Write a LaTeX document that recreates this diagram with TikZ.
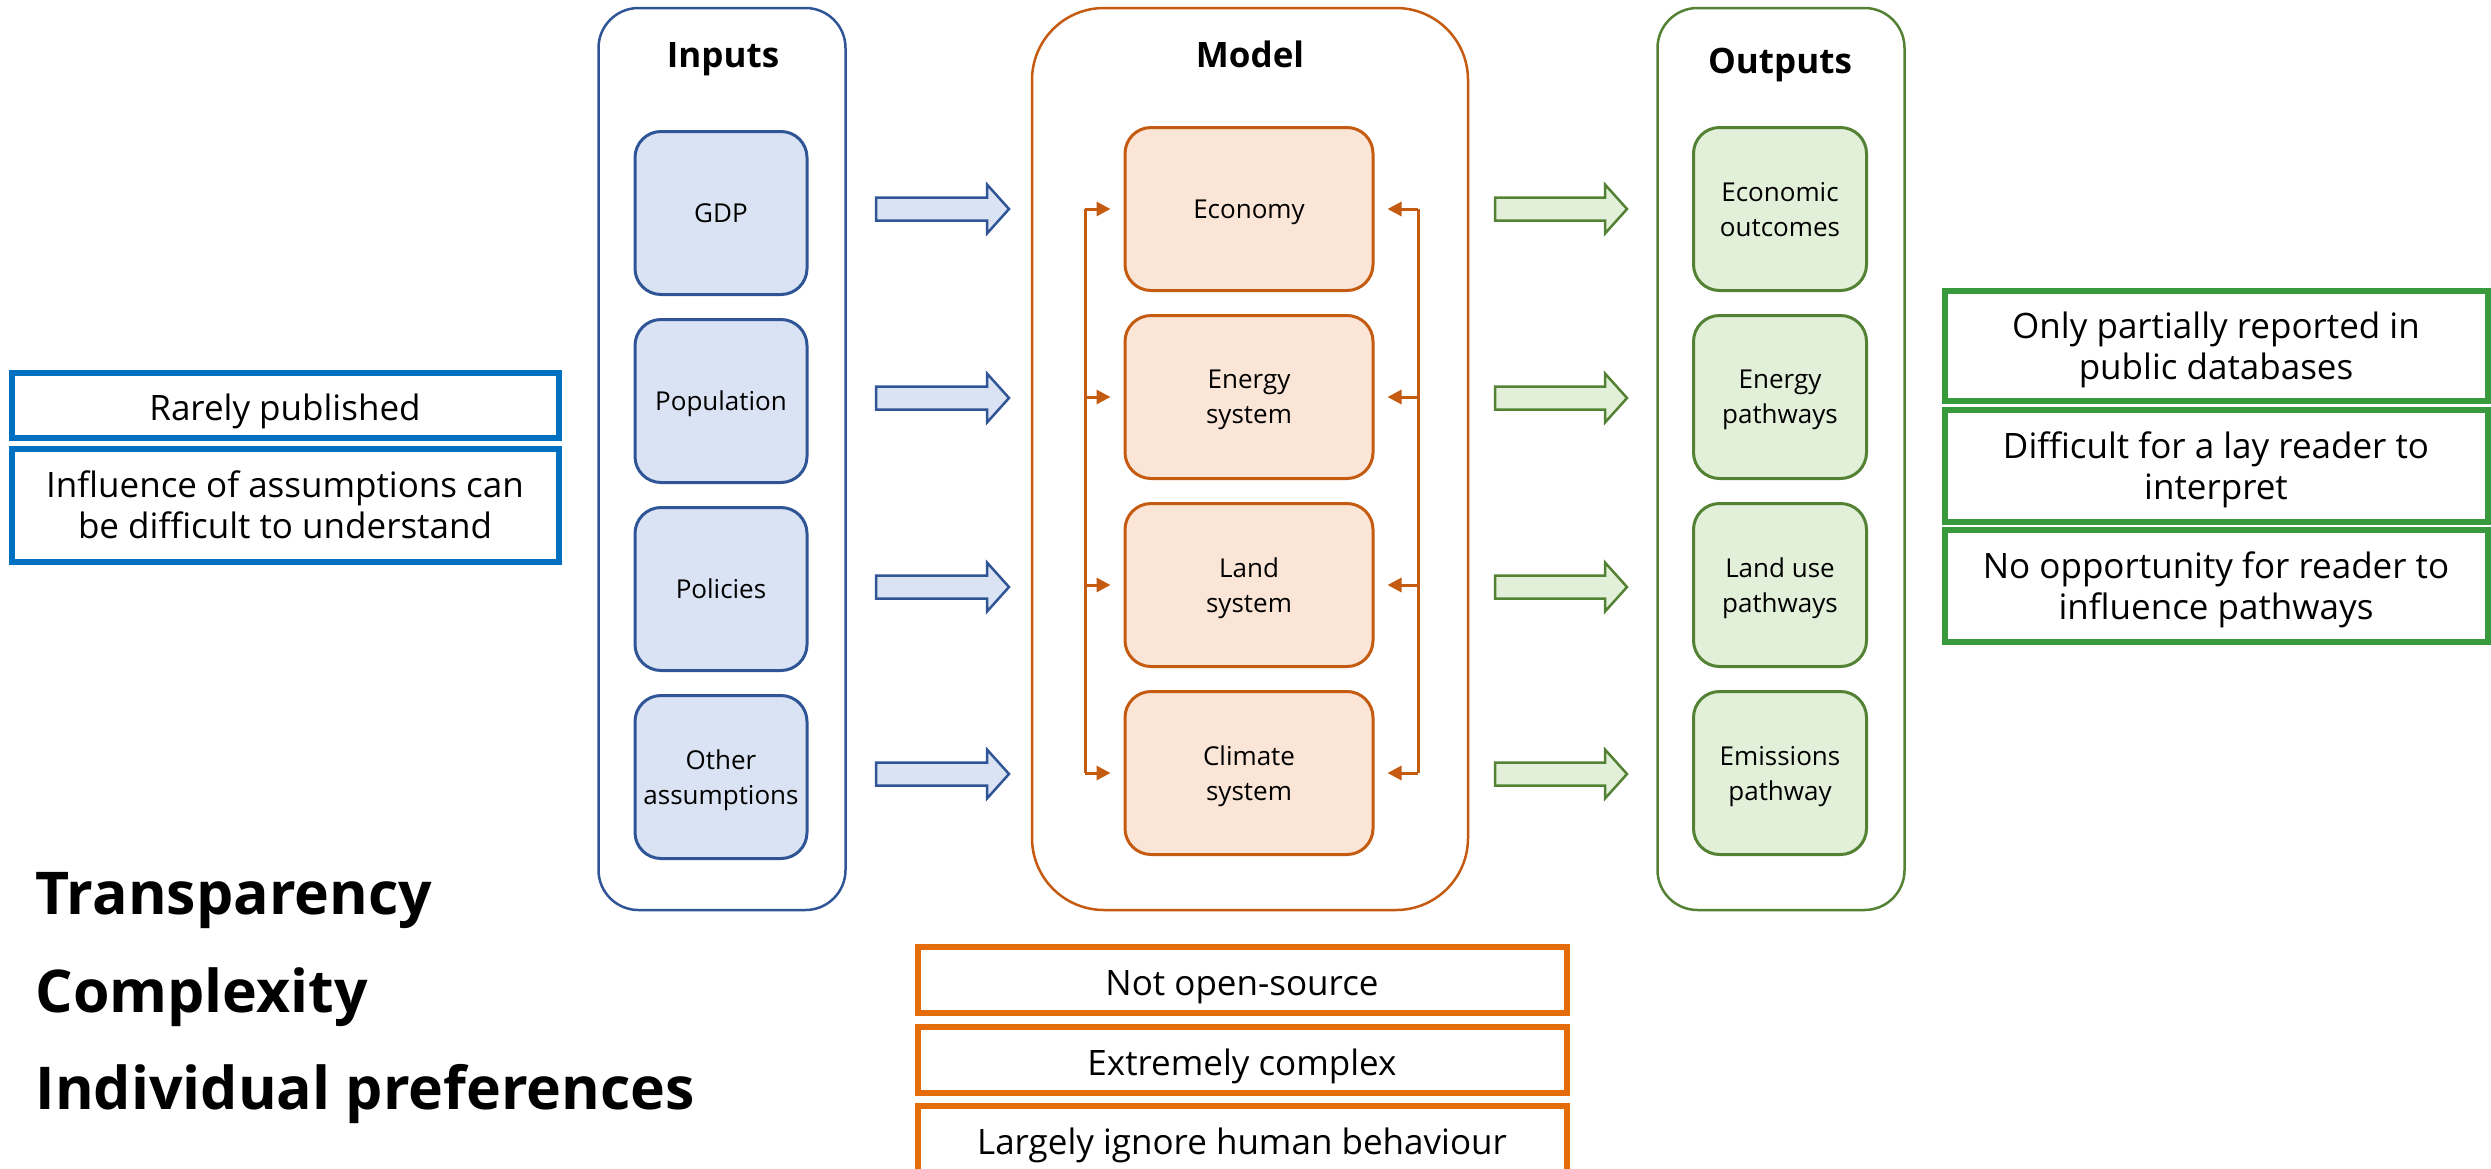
\documentclass[tikz,border=0pt]{standalone}
\usepackage{fontspec}
\setmainfont{Open Sans}
\usetikzlibrary{positioning,arrows.meta}

\definecolor{inblue}{HTML}{2F5597}
\definecolor{inlight}{HTML}{DAE3F3}
\definecolor{modorange}{HTML}{C55A11}
\definecolor{modlight}{HTML}{FBE5D6}
\definecolor{outgreen}{HTML}{548235}
\definecolor{outlight}{HTML}{E2F0D9}
\definecolor{noteblue}{HTML}{0070C0}
\definecolor{noteorange}{HTML}{E46C0A}
\definecolor{notegreen}{HTML}{389A3C}

\tikzset{
  colframe/.style={draw=#1, line width=2.5pt, minimum width=247pt, minimum height=902pt},
  coltitle/.style={anchor=base, font=\fontsize{35}{40}\selectfont\bfseries},
  inbox/.style={draw=#1, line width=3pt, rounded corners=26pt, minimum height=163pt,
    align=center, inner sep=0pt, text depth=0pt, font=\fontsize{26}{35}\selectfont},
  note/.style={draw=#1, line width=6pt, align=center, inner sep=0pt, text depth=0pt,
    font=\fontsize{35}{41}\selectfont},
  oneline/.style={text height=39pt, text depth=8pt},
  fbline/.style={draw=modorange, line width=3pt},
  bigword/.style={anchor=base west, font=\fontsize{59}{62}\selectfont\bfseries}
}

\begin{document}
\begin{tikzpicture}[x=1pt,y=-1pt,node distance=22pt]
  \useasboundingbox (0,0) rectangle (2491,1168);

  % the three columns
  \node[colframe=inblue, rounded corners=40pt] (inframe) at (722,459) {};
  \node[colframe=modorange, rounded corners=72pt, minimum width=436pt] (modframe) at (1250,459) {};
  \node[colframe=outgreen, rounded corners=40pt] (outframe) at (1781,459) {};
  \node[coltitle] (intitle) at (723,67) {Inputs};
  \node[coltitle] (modtitle) at (1250,67) {Model};
  \node[coltitle] (outtitle) at (1780,73) {Outputs};

  % inputs
  \node[inbox=inblue, fill=inlight, minimum width=172pt] (gdp) at (721,213) {GDP};
  \node[inbox=inblue, fill=inlight, minimum width=172pt, below=of gdp] (pop) {Population};
  \node[inbox=inblue, fill=inlight, minimum width=172pt, below=of pop] (pol) {Policies};
  \node[inbox=inblue, fill=inlight, minimum width=172pt, below=of pol] (other) {Other\\assumptions};

  % model
  \node[inbox=modorange, fill=modlight, minimum width=248pt] (econ) at (1249,209) {Economy};
  \node[inbox=modorange, fill=modlight, minimum width=248pt, below=of econ] (energy) {Energy\\system};
  \node[inbox=modorange, fill=modlight, minimum width=248pt, below=of energy] (land) {Land\\system};
  \node[inbox=modorange, fill=modlight, minimum width=248pt, below=of land] (clim) {Climate\\system};

  % outputs
  \node[inbox=outgreen, fill=outlight, minimum width=173pt] (econout) at (1780,209) {Economic\\outcomes};
  \node[inbox=outgreen, fill=outlight, minimum width=173pt, below=of econout] (enout) {Energy\\pathways};
  \node[inbox=outgreen, fill=outlight, minimum width=173pt, below=of enout] (landout) {Land use\\pathways};
  \node[inbox=outgreen, fill=outlight, minimum width=173pt, below=of landout] (emout) {Emissions\\pathway};

  % block arrows between the columns
  \foreach \y in {209,398,587,774} {
    \draw[inblue, fill=inlight, line width=2.5pt] (876,\y-11.5) -- (987,\y-11.5) -- (987,\y-24.5)
      -- (1009,\y) -- (987,\y+24.5) -- (987,\y+11.5) -- (876,\y+11.5) -- cycle;
    \draw[outgreen, fill=outlight, line width=2.5pt] (1495,\y-11.5) -- (1605,\y-11.5) -- (1605,\y-24.5)
      -- (1627,\y) -- (1605,\y+24.5) -- (1605,\y+11.5) -- (1495,\y+11.5) -- cycle;
  }

  % feedback between the model parts
  \coordinate (lbus) at (1085,0);
  \coordinate (rbus) at (1418,0);
  \draw[fbline] (lbus |- econ) -- (lbus |- clim);
  \draw[fbline] (rbus |- econ) -- (rbus |- clim);
  \foreach \m in {econ,energy,land,clim} {
    \draw[fbline, -{Triangle[length=14pt,width=14pt]}] (lbus |- \m) -- ([xshift=-13pt]\m.west);
    \draw[fbline, -{Triangle[length=14pt,width=14pt]}] (rbus |- \m) -- ([xshift=13pt]\m.east);
  }

  % notes
  \node[note=noteblue, oneline, minimum width=547pt, minimum height=65pt] (rare) at (285,405) {Rarely published};
  \node[note=noteblue, minimum width=547pt, minimum height=113pt] (infl) at (285,505) {Influence of assumptions can\\be difficult to understand};
  \node[note=notegreen, minimum width=543pt, minimum height=110pt] (partial) at (2216,346) {Only partially reported in\\public databases};
  \node[note=notegreen, minimum width=543pt, minimum height=112pt] (lay) at (2216,466) {Difficult for a lay reader to\\interpret};
  \node[note=notegreen, minimum width=543pt, minimum height=112pt] (noopp) at (2216,586) {No opportunity for reader to\\influence pathways};
  \node[note=noteorange, oneline, minimum width=649pt, minimum height=66pt] (closed) at (1242,980) {Not open-source};
  \node[note=noteorange, oneline, minimum width=649pt, minimum height=66pt] (complex) at (1242,1060) {Extremely complex};
  \node[note=noteorange, oneline, minimum width=649pt, minimum height=66pt] (behav) at (1242,1139) {Largely ignore human behaviour};

  \node[bigword] (transp) at (32,914) {Transparency};
  \node[bigword] (complx) at (32,1012) {Complexity};
  \node[bigword] (prefs) at (32,1109) {Individual preferences};
\end{tikzpicture}
\end{document}
